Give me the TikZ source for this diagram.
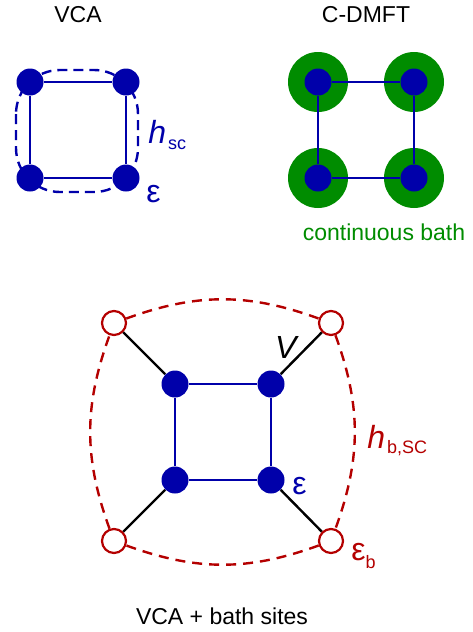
\documentclass[tikz,border=0pt]{standalone}
\usepackage{fontspec}
\setmainfont{Liberation Sans}
\usetikzlibrary{positioning}

\definecolor{siteblue}{RGB}{0,0,170}
\definecolor{bathgreen}{RGB}{0,140,0}
\definecolor{bathred}{RGB}{180,0,0}
\newcommand{\lowsub}[2][-3pt]{\raisebox{#1}{\fontsize{9}{10}\selectfont #2}}

\begin{document}
\begin{tikzpicture}[x=0.5pt,y=-0.5pt,node distance=48pt,on grid,
    site/.style={circle,fill=siteblue,inner sep=0pt,minimum size=13.5pt},
    bathsite/.style={circle,draw=bathred,fill=white,line width=1.1pt,inner sep=0pt,minimum size=12pt},
    cloud/.style={circle,fill=bathgreen,inner sep=0pt,minimum size=30pt},
    hop/.style={siteblue,line width=1.2pt},
    hyb/.style={black,line width=1.2pt},
    cluster/.style={siteblue,line width=1.2pt,dash pattern=on 5pt off 3pt},
    bathlink/.style={bathred,line width=1.2pt,dash pattern=on 5pt off 3.5pt},
    title/.style={font=\fontsize{11.5}{13}\selectfont},
    sym/.style={font=\fontsize{16}{18}\selectfont,inner sep=0pt}]
    \useasboundingbox (0,0) rectangle (472,632);

    % VCA
    \node[title] (vca) at (78,15) {VCA};
    \node[site] (v1) at (30,82) {};
    \node[site,right=of v1] (v2) {};
    \node[site,below=of v1] (v3) {};
    \node[site,right=of v3] (v4) {};
    \draw[hop] (v1) -- (v2) -- (v4) -- (v3) -- (v1);
    \draw[cluster,rounded corners=22pt] (16,70) rectangle (138,192);
    \node[sym,siteblue,anchor=base west] (hsc) at (148,143) {\textit{h}\kern1pt\lowsub{sc}};
    \node[sym,siteblue,anchor=base west] (eps) at (146,202) {ε};

    % C-DMFT
    \node[title] (cdmft) at (366,15) {C-DMFT};
    \node[cloud] (c1) at (318,82) {};
    \node[cloud,right=of c1] (c2) {};
    \node[cloud,below=of c1] (c3) {};
    \node[cloud,right=of c3] (c4) {};
    \node[site] (d1) at (c1) {};
    \node[site] (d2) at (c2) {};
    \node[site] (d3) at (c3) {};
    \node[site] (d4) at (c4) {};
    \draw[hop] (d1) -- (d2) -- (d4) -- (d3) -- (d1);
    \node[title,bathgreen] (cbath) at (384,232) {continuous bath};

    % VCA + bath sites
    \node[site] (s1) at (175,384) {};
    \node[site,right=of s1] (s2) {};
    \node[site,below=of s1] (s3) {};
    \node[site,right=of s3] (s4) {};
    \node[bathsite,above left=30.5pt and 30.5pt of s1] (b1) {};
    \node[bathsite,above right=30.5pt and 30pt of s2] (b2) {};
    \node[bathsite,below left=30.5pt and 30.5pt of s3] (b3) {};
    \node[bathsite,below right=30.5pt and 30pt of s4] (b4) {};
    \draw[hop] (s1) -- (s2) -- (s4) -- (s3) -- (s1);
    \draw[hyb] (b1) -- (s1);
    \draw[hyb] (b2) -- (s2);
    \draw[hyb] (b3) -- (s3);
    \draw[hyb] (b4) -- (s4);
    \draw[bathlink] (b1) to[bend left=20] (b2);
    \draw[bathlink] (b2) to[bend left=20] (b4);
    \draw[bathlink] (b4) to[bend left=20] (b3);
    \draw[bathlink] (b3) to[bend left=20] (b1);
    \node[sym] (hyblabel) at (287,347) {\textit{V}};
    \node[sym,bathred,anchor=base west] (hbsc) at (367,448) {\textit{h}\kern1pt\lowsub[-2.5pt]{b,SC}};
    \node[sym,siteblue,anchor=base west] (epsc) at (292,494) {ε};
    \node[sym,bathred,anchor=base west] (epsb) at (351,560) {ε\lowsub[-4pt]{b}};
    \node[title] (vcab) at (222,616) {VCA + bath sites};
\end{tikzpicture}
\end{document}
